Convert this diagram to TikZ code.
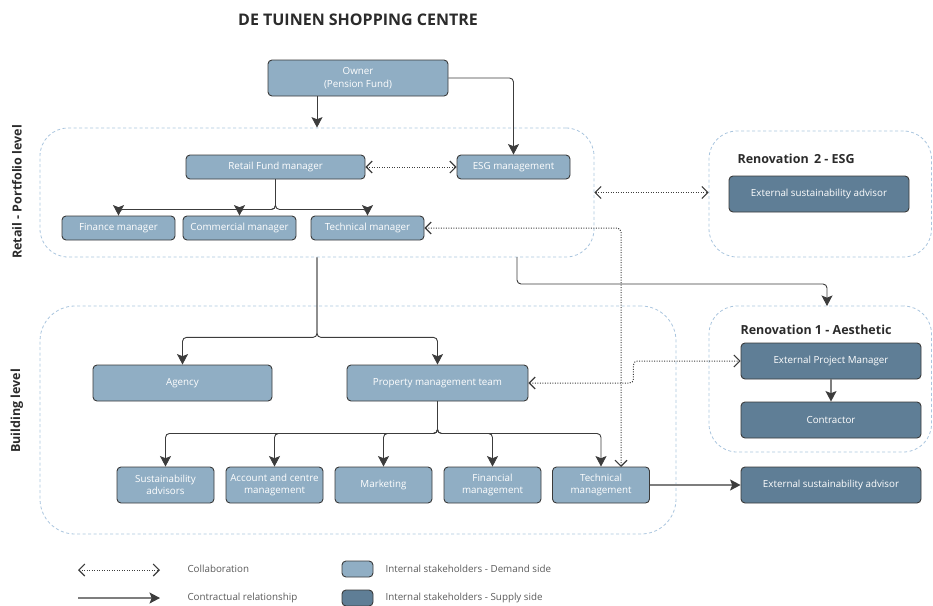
\documentclass[tikz,border=0pt]{standalone}
\usepackage{fontspec}
\setmainfont{Open Sans}
\usetikzlibrary{arrows.meta}

\definecolor{demand}{HTML}{90AEC4}
\definecolor{supply}{HTML}{5F7E96}
\definecolor{boxline}{HTML}{3A3A3A}
\definecolor{zone}{HTML}{A9C5DE}
\definecolor{wire}{HTML}{3C3C3C}
\definecolor{softwire}{HTML}{7E7E7E}
\definecolor{legendtext}{HTML}{5A5A5A}
\definecolor{heading}{HTML}{2B2B2B}

\begin{document}
\begin{tikzpicture}[x=1pt,y=-1pt,
  box/.style={draw=boxline, line width=0.9pt, rounded corners=4pt, fill=demand,
    text=white, font=\fontsize{9.8}{12.5}\selectfont, align=center, inner sep=0pt},
  supplybox/.style={box, fill=supply},
  zonebox/.style={draw=zone, line width=0.8pt, dash pattern=on 3pt off 2.5pt,
    inner sep=0pt},
  contract/.style={draw=wire, line width=0.9pt, rounded corners=4pt,
    -{Stealth[length=10.5pt,width=11pt,inset=2.2pt]}},
  softcontract/.style={draw=softwire, line width=1.3pt,
    -{Stealth[length=10.5pt,width=11pt,inset=2.2pt,color=wire]}},
  collab/.style={draw=wire, line width=1pt, dash pattern=on 1pt off 1.5pt,
    rounded corners=4pt,
    {Straight Barb[length=6pt,width=12pt,line width=1.1pt]}-{Straight Barb[length=6pt,width=12pt,line width=1.1pt]}},
  zonetitle/.style={anchor=west, text=heading, font=\fontsize{12.5}{14}\selectfont\bfseries},
  sidelabel/.style={rotate=90, text=heading, font=\fontsize{12.5}{14}\selectfont\bfseries},
  legendlabel/.style={anchor=west, text=legendtext, font=\fontsize{9.8}{12}\selectfont},
]
\useasboundingbox (0,0) rectangle (933,605);

% title
\node[text=heading, font=\fontsize{16}{19}\selectfont\bfseries] (title) at (358,20) {DE TUINEN SHOPPING CENTRE};

% dashed zones
\node[zonebox, rounded corners=28pt, minimum width=554pt, minimum height=129pt] (retail) at (317,192.5) {};
\node[zonebox, rounded corners=28pt, minimum width=222.5pt, minimum height=126pt] (reno2) at (820.25,194) {};
\node[zonebox, rounded corners=35pt, minimum width=636pt, minimum height=228pt] (building) at (358,420) {};
\node[zonebox, rounded corners=28pt, minimum width=222.5pt, minimum height=146pt] (reno1) at (820.25,379) {};

% side labels and zone titles
\node[sidelabel] (lblretail) at (17,192) {Retail - Portfolio level};
\node[sidelabel] (lblbuilding) at (17,411) {Building level};
\node[zonetitle] (ttlreno2) at (734,159) {Renovation~\,2 - ESG};
\node[zonetitle] (ttlreno1) at (737,330) {Renovation 1 - Aesthetic};

% portfolio level
\node[box, minimum width=180pt, minimum height=36pt] (owner) at (358,78) {Owner\\(Pension Fund)};
\node[box, minimum width=179pt, minimum height=24pt] (rfm) at (275.5,167) {Retail Fund manager};
\node[box, minimum width=113pt, minimum height=24pt] (esg) at (513.5,167) {ESG management};
\node[box, minimum width=113pt, minimum height=24pt] (finmgr) at (118.5,228) {Finance manager};
\node[box, minimum width=113pt, minimum height=24pt] (commgr) at (239.5,228) {Commercial manager};
\node[box, minimum width=113pt, minimum height=24pt] (techmgr) at (367.5,228) {Technical manager};

% renovation 2
\node[supplybox, minimum width=180pt, minimum height=36pt] (esa2) at (819,194) {External sustainability advisor};

% building level
\node[box, minimum width=179pt, minimum height=36pt] (agency) at (182.5,383) {Agency};
\node[box, minimum width=181pt, minimum height=36pt] (pmt) at (437.5,383) {Property management team};
\node[box, minimum width=97pt, minimum height=36pt] (sust) at (165.5,485) {Sustainability\\advisors};
\node[box, minimum width=97pt, minimum height=36pt] (acct) at (274.5,485) {Account and centre\\management};
\node[box, minimum width=97pt, minimum height=36pt] (mkt) at (383.5,485) {Marketing};
\node[box, minimum width=97pt, minimum height=36pt] (finm) at (492.5,485) {Financial\\management};
\node[box, minimum width=97pt, minimum height=36pt] (techm) at (601,485) {Technical\\management};

% renovation 1 and external advisor
\node[supplybox, minimum width=180pt, minimum height=36pt] (epm) at (831,361) {External Project Manager};
\node[supplybox, minimum width=180pt, minimum height=36pt] (contractor) at (831,420) {Contractor};
\node[supplybox, minimum width=180pt, minimum height=36pt] (esa1) at (831,485) {External sustainability advisor};

% free connector ends
\coordinate (rfoot) at (517,257);
\coordinate (r1top) at (827,306);
\coordinate (tmtop) at (621,467);

% contractual relationships
\draw[contract] (owner.south -| retail.north) -- (retail.north);
\draw[contract] (owner.east) -| (esg.north);
\draw[contract] (rfm.south) -- ++(0,30) -| (finmgr.north);
\draw[contract] (rfm.south) -- ++(0,30) -| (commgr.north);
\draw[contract] (rfm.south) -- ++(0,30) -| (techmgr.north);
\draw[contract] (retail.south) -- ++(0,80) -| (agency.north);
\draw[contract] (retail.south) -- ++(0,80) -| (pmt.north);
\draw[contract] (rfoot) -- ++(0,27) -| (r1top);
\foreach \child in {sust,acct,mkt,finm,techm}
  \draw[contract] (pmt.south) -- ++(0,32) -| (\child.north);
\draw[softcontract] (epm) -- (contractor);
\draw[softcontract] (techm.east) -- (esa1.west);

% collaborations
\draw[collab] (rfm.east) -- (esg.west);
\draw[collab] (retail.east) -- (retail.east -| reno2.west);
\draw[collab] (techmgr.east) -| (tmtop);
\draw[collab] (pmt.east) -- ++(105,0) |- (epm.west);

% legend
\coordinate (lgc1) at (78,570);
\coordinate (lgc2) at (160,570);
\coordinate (lgk1) at (78,598);
\coordinate (lgk2) at (160,598);
\draw[collab] (lgc1) -- (lgc2);
\draw[softcontract] (lgk1) -- (lgk2);
\node[legendlabel] (lgcollab) at (184,569) {Collaboration};
\node[legendlabel] (lgcontract) at (184,598) {Contractual relationship};
\node[box, minimum width=31pt, minimum height=16pt] (lgdemand) at (357.5,569) {};
\node[supplybox, minimum width=31pt, minimum height=16pt] (lgsupply) at (357.5,598) {};
\node[legendlabel] (lgdemandtxt) at (382,569) {Internal stakeholders - Demand side};
\node[legendlabel] (lgsupplytxt) at (382,598) {Internal stakeholders - Supply side};
\end{tikzpicture}
\end{document}
